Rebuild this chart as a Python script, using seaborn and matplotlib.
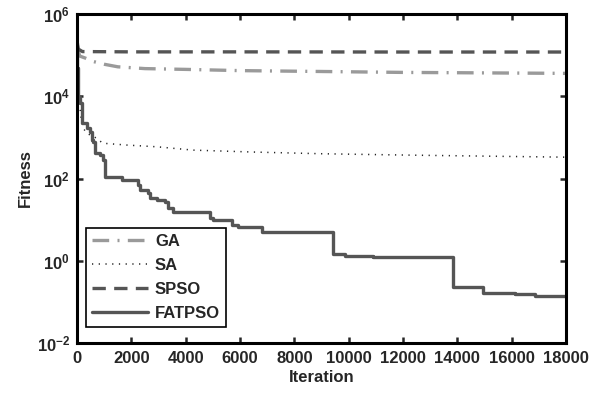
import numpy as np
import pandas as pd
import matplotlib
matplotlib.use("Agg")
import matplotlib.pyplot as plt
import seaborn as sns

# Convergence curves (best fitness vs. iteration)
ga_iter = [0, 100, 300, 600, 1000, 1500, 2500, 4000, 6000, 9000, 12000, 15000, 18000]
ga_fit = [1.6e5, 9.5e4, 8.5e4, 7.0e4, 6.0e4, 5.2e4, 4.7e4, 4.5e4, 4.2e4, 4.0e4, 3.8e4, 3.7e4, 3.6e4]

sa_iter = [0, 30, 80, 150, 250, 368, 663, 957, 1840, 2945, 4270, 6480, 9000, 12260, 15000, 18000]
sa_fit = [2.0e5, 3.0e4, 8.0e3, 3.0e3, 1.6e3, 1.25e3, 1.0e3, 720, 650, 590, 490, 440, 400, 370, 350, 330]

spso_iter = [0, 50, 200, 2000, 6000, 12000, 18000]
spso_fit = [2.0e5, 1.4e5, 1.22e5, 1.2e5, 1.2e5, 1.19e5, 1.19e5]

fat_iter = [0, 10, 20, 37, 100, 184, 368, 478, 552, 600, 663, 847, 957, 1031,
            1656, 2245, 2319, 2614, 2687, 2945, 3239, 3350, 3534, 4896, 5006,
            5706, 5926, 6626, 6810, 9423, 9865, 10896, 13841, 14945, 16123,
            16859, 18000]
fat_fit = [2.0e5, 5.0e4, 2.0e4, 9.5e3, 7.0e3, 2.2e3, 1.7e3, 1.35e3, 870, 780,
           420, 370, 280, 110, 91, 69, 52, 45, 34, 30, 27, 19, 15.5, 11, 9.8,
           7.4, 6.6, 6.6, 5.0, 1.45, 1.32, 1.23, 0.23, 0.166, 0.155, 0.138, 0.138]

x_ticks = [0, 2000, 4000, 6000, 8000, 10000, 12000, 14000, 16000, 18000]
y_exps = [-2, 0, 2, 4, 6]

sns.set_style("white")
plt.rcParams["font.family"] = ["Liberation Sans", "DejaVu Sans"]
plt.rcParams["font.weight"] = "bold"
plt.rcParams["mathtext.fontset"] = "custom"
plt.rcParams["mathtext.rm"] = "Liberation Sans:bold"
plt.rcParams["mathtext.bf"] = "Liberation Sans:bold"
plt.rcParams["mathtext.it"] = "Liberation Sans:bold:italic"

fig = plt.figure(figsize=(6.08, 3.93), dpi=100)
ax = fig.add_axes([77 / 608, 50 / 393, 489 / 608, 329 / 393])

series = [
    ("GA", ga_iter, ga_fit, dict(color="#9a9a9a", linestyle=(0, (5, 2.5, 0.6, 2.5)), linewidth=2.4)),
    ("SA", sa_iter, sa_fit, dict(color="#222222", linestyle=(0, (0.8, 3.6)), linewidth=1.1)),
    ("SPSO", spso_iter, spso_fit, dict(color="#555555", linestyle=(0, (4, 2.5)), linewidth=2.4)),
    ("FATPSO", fat_iter, fat_fit, dict(color="#555555", linestyle="-", linewidth=2.4, drawstyle="steps-post")),
]

for name, xs, ys, style in series:
    df = pd.DataFrame({"Iteration": xs, "Fitness": ys})
    sns.lineplot(data=df, x="Iteration", y="Fitness", ax=ax, label=name,
                 estimator=None, sort=False, **style)

ax.set_yscale("log")
ax.set_xlim(0, 18000)
ax.set_ylim(1e-2, 1e6)
ax.set_xticks(x_ticks)
ax.set_xticklabels([str(t) for t in x_ticks], fontsize=12, fontweight="bold")
ax.set_yticks([10.0 ** e for e in y_exps])
ax.set_yticklabels([r"$\mathbf{10^{%d}}$" % e for e in y_exps], fontsize=12)
ax.yaxis.set_minor_locator(matplotlib.ticker.NullLocator())

ax.tick_params(axis="both", which="major", direction="in", length=4, width=1.8,
               top=True, right=True, bottom=True, left=True)
ax.tick_params(axis="x", pad=6)
ax.tick_params(axis="y", pad=5)
for sp in ax.spines.values():
    sp.set_visible(True)
    sp.set_linewidth(2.2)
    sp.set_color("black")

ax.set_xlabel("Iteration", fontsize=12, fontweight="bold", labelpad=3)
ax.set_ylabel("Fitness", fontsize=12, fontweight="bold", labelpad=3)

leg = ax.legend(loc="lower left", bbox_to_anchor=(0.018, 0.049), borderaxespad=0,
                frameon=True, fancybox=False, framealpha=1, edgecolor="black",
                prop={"weight": "bold", "size": 12}, handlelength=3.4,
                labelspacing=0.55, handletextpad=0.4, borderpad=0.35)
leg.get_frame().set_linewidth(1.2)

fig.savefig("out.png", dpi=100)
